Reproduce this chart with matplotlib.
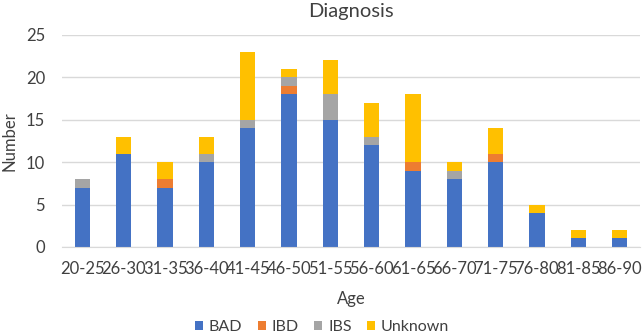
import matplotlib
matplotlib.use("Agg")
import matplotlib.pyplot as plt
import numpy as np

plt.rcParams["font.family"] = ["Lato", "DejaVu Sans"]

# Age groups and counts per diagnosis
ages = ["20-25", "26-30", "31-35", "36-40", "41-45", "46-50", "51-55",
        "56-60", "61-65", "66-70", "71-75", "76-80", "81-85", "86-90"]
bad = [7, 11, 7, 10, 14, 18, 15, 12, 9, 8, 10, 4, 1, 1]
ibd = [0, 0, 1, 0, 0, 1, 0, 0, 1, 0, 1, 0, 0, 0]
ibs = [1, 0, 0, 1, 1, 1, 3, 1, 0, 1, 0, 0, 0, 0]
unknown = [0, 2, 2, 2, 8, 1, 4, 4, 8, 1, 3, 1, 1, 1]

series = [("BAD", bad, "#4472C4"), ("IBD", ibd, "#ED7D31"),
          ("IBS", ibs, "#A5A5A5"), ("Unknown", unknown, "#FFC000")]

fig = plt.figure(figsize=(6.44, 3.36), dpi=100)
ax = fig.add_axes([0.096, 0.265, 0.898, 0.631])

x = np.arange(len(ages))
bottom = np.zeros(len(ages))
for name, vals, color in series:
    ax.bar(x, vals, 0.37, bottom=bottom, color=color, label=name, zorder=2)
    bottom += np.array(vals)

ax.set_xlim(-0.5, len(ages) - 0.5)
ax.set_ylim(0, 25)
ax.set_yticks(range(0, 26, 5))
ax.set_xticks(x)
ax.set_xticklabels(ages)
ax.yaxis.grid(True, color="#D9D9D9", linewidth=1, zorder=0)
for s in ["top", "right", "left"]:
    ax.spines[s].set_visible(False)
ax.spines["bottom"].set_color("#D9D9D9")
ax.tick_params(length=0, labelsize=12, colors="#404040")
ax.tick_params(axis="x", pad=10)
ax.tick_params(axis="y", pad=12)

ax.set_title("Diagnosis", fontsize=14.5, color="#404040", pad=13)
ax.set_ylabel("Number", fontsize=12, color="#404040", labelpad=6)
ax.set_xlabel("Age", fontsize=12, color="#404040", labelpad=10)

fig.legend(loc="lower center", bbox_to_anchor=(0.5, -0.02), ncol=4, frameon=False,
           fontsize=11.5, handlelength=0.5, handleheight=0.5, handletextpad=0.35,
           columnspacing=1.0, labelcolor="#404040", borderpad=0.05)

fig.savefig("out.png", dpi=100)
